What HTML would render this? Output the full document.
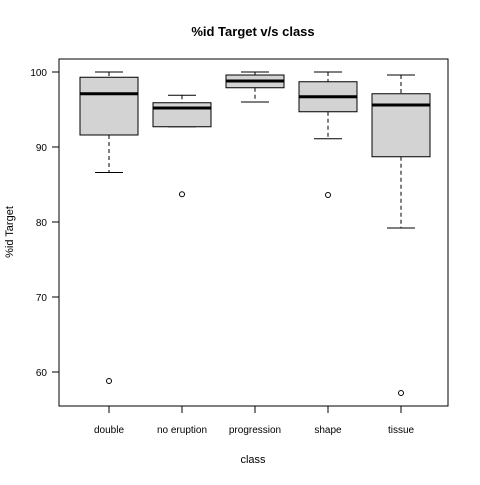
<!DOCTYPE html>
<html><head><meta charset="utf-8"><style>
body{margin:0;background:#fff}
svg text{font-family:"Liberation Sans",Arial,sans-serif}
</style></head><body>
<svg id="chart" width="480" height="480" viewBox="0 0 480 480" xmlns="http://www.w3.org/2000/svg">
<rect width="480" height="480" fill="#fff"/>
<text x="253" y="36" text-anchor="middle" font-size="13" font-weight="bold">%id Target v/s class</text>
<text x="253" y="463" text-anchor="middle" font-size="11">class</text>
<text transform="translate(13,232) rotate(-90)" text-anchor="middle" font-size="11">%id Target</text>
<rect x="59" y="59" width="389" height="347" fill="none" stroke="#000"/>
<g id="marks"></g>
</svg>
<script>
const categories=["double","no eruption","progression","shape","tissue"];
const whiskerHigh=[100,96.9,100,100,99.6];
const q3=[99.3,95.9,99.6,98.7,97.1];
const medians=[97.1,95.2,98.8,96.7,95.6];
const q1=[91.6,92.7,97.9,94.7,88.7];
const whiskerLow=[86.6,92.7,96.0,91.1,79.2];
const outliers=[[58.8],[83.7],[],[83.6],[57.2]];
const yTicks=[60,70,80,90,100];

const ns="http://www.w3.org/2000/svg";
const g=document.getElementById("marks");
function y(v){return 372-(v-60)*7.5;}
function x(i){return 109+i*73;}
function el(t,a){const e=document.createElementNS(ns,t);for(const k in a)e.setAttribute(k,a[k]);g.appendChild(e);return e;}
yTicks.forEach(t=>{
  const l=el("line",{x1:52,x2:59,y1:y(t),y2:y(t),stroke:"#000"});
  
  
  const tx=el("text",{x:47,y:y(t)+4,"text-anchor":"end","font-size":"10"});
  tx.textContent=t;
  
  
});
categories.forEach((c,i)=>{
  const cx=x(i),hw=29;
  const tk=el("line",{x1:cx,x2:cx,y1:406,y2:413,stroke:"#000"});
  
  
  const tl=el("text",{x:cx,y:433,"text-anchor":"middle","font-size":"10"});
  tl.textContent=c;
  
  
  const w1=el("line",{x1:cx,x2:cx,y1:y(whiskerHigh[i]),y2:y(q3[i]),stroke:"#000","stroke-dasharray":"4,3"});
  
  
  const w2=el("line",{x1:cx,x2:cx,y1:y(q1[i]),y2:y(whiskerLow[i]),stroke:"#000","stroke-dasharray":"4,3"});
  
  
  const c1=el("line",{x1:cx-14,x2:cx+14,y1:y(whiskerHigh[i]),y2:y(whiskerHigh[i]),stroke:"#000"});
  
  
  const c2=el("line",{x1:cx-14,x2:cx+14,y1:y(whiskerLow[i]),y2:y(whiskerLow[i]),stroke:"#000"});
  
  
  const b=el("rect",{x:cx-hw,y:y(q3[i]),width:hw*2,height:y(q1[i])-y(q3[i]),fill:"#d3d3d3",stroke:"#000"});
  
  
  const m=el("line",{x1:cx-hw,x2:cx+hw,y1:y(medians[i]),y2:y(medians[i]),stroke:"#000","stroke-width":3});
  
  
  outliers[i].forEach(o=>{
    const p=el("circle",{cx:cx,cy:y(o),r:2.5,fill:"none",stroke:"#000"});
    
    
  });
});
</script>
</body></html>
